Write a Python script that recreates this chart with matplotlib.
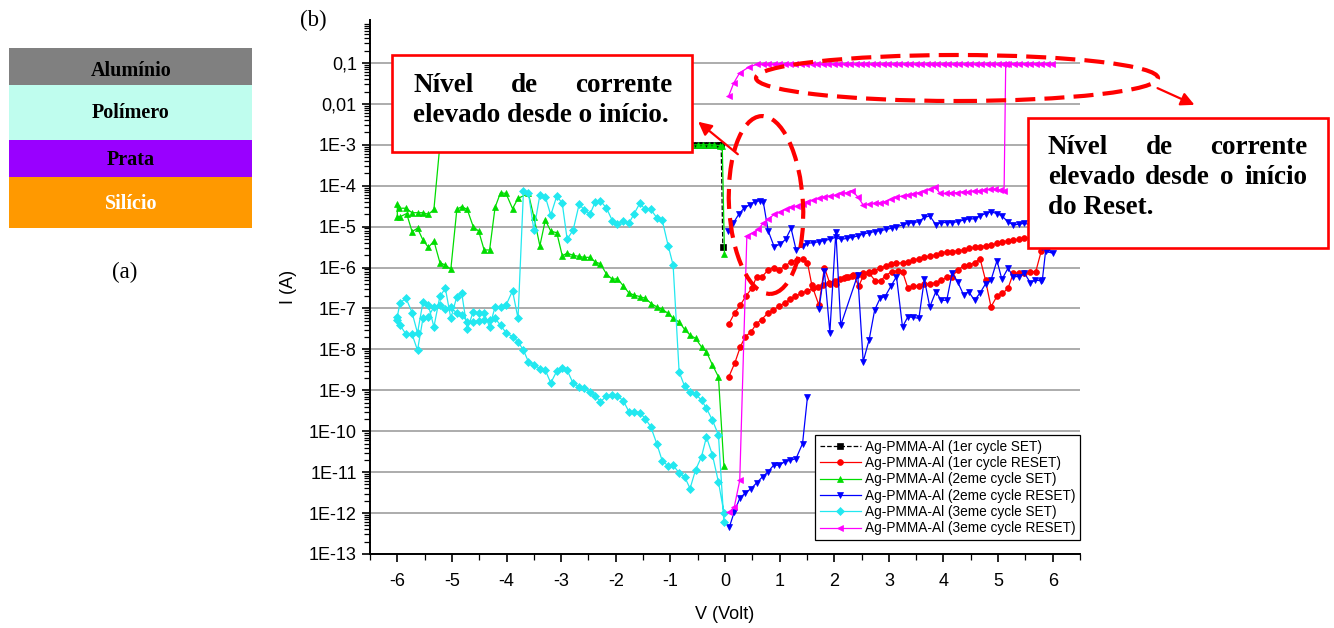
import numpy as np
import matplotlib
matplotlib.use("Agg")
import matplotlib.pyplot as plt
from matplotlib.patches import Rectangle, Ellipse, FancyArrowPatch
from matplotlib.ticker import FixedLocator, FixedFormatter, LogLocator, MultipleLocator, NullFormatter

# ---- layer stack (a) ----
layer_names = ['Alumínio', 'Polímero', 'Prata', 'Silício']
layer_colors = ['#808080', '#bffdee', '#9900ff', '#ff9900']
layer_text_colors = ['black', 'black', 'black', 'white']

# ---- I-V sweeps (b): (V, log10 I) ----
set1_pts = [(-0.9, -3.0), (-0.8, -3.0), (-0.7, -3.0), (-0.6, -3.0), (-0.5, -3.0), (-0.4, -3.0),
            (-0.3, -3.0), (-0.2, -3.0), (-0.1, -3.0), (-0.07, -3.0), (-0.04, -5.5)]

reset1_pts = [(0.07, -8.67), (0.18, -8.33), (0.28, -7.94), (0.37, -7.69), (0.48, -7.57), (0.57, -7.38),
              (0.67, -7.27), (0.78, -7.12), (0.88, -7.04), (0.99, -6.94), (1.10, -6.86), (1.19, -6.78),
              (1.29, -6.70), (1.40, -6.63), (1.50, -6.57), (1.61, -6.51), (1.70, -6.47), (1.80, -6.43),
              (1.90, -6.37), (2.01, -6.32), (2.11, -6.29), (2.21, -6.24), (2.32, -6.21), (2.41, -6.18),
              (2.52, -6.14), (2.63, -6.10), (2.73, -6.08), (2.84, -6.02), (2.94, -5.96), (3.04, -5.91),
              (3.14, -5.90), (3.25, -5.88), (3.35, -5.86), (3.45, -5.82), (3.55, -5.78), (3.65, -5.75),
              (3.75, -5.72), (3.86, -5.69), (3.96, -5.65), (4.06, -5.61), (4.16, -5.61), (4.26, -5.59),
              (4.37, -5.57), (4.47, -5.53), (4.57, -5.51), (4.67, -5.49), (4.77, -5.47), (4.87, -5.45),
              (4.98, -5.41), (5.08, -5.38), (5.18, -5.34), (5.28, -5.33), (5.38, -5.31), (5.48, -5.29),
              (5.60, -5.27), (5.70, -5.25), (5.80, -5.24), (5.90, -5.22), (6.00, -5.20),
              (5.90, -5.30), (5.79, -5.60), (5.69, -6.10), (5.59, -6.10), (5.48, -6.13), (5.38, -6.14),
              (5.28, -6.14), (5.18, -6.51), (5.08, -6.63), (4.98, -6.70), (4.87, -6.96), (4.77, -6.31),
              (4.67, -5.78), (4.57, -5.88), (4.47, -5.94), (4.37, -5.96), (4.26, -6.06), (4.16, -6.22),
              (4.06, -6.24), (3.96, -6.31), (3.86, -6.37), (3.75, -6.40), (3.65, -6.40), (3.55, -6.45),
              (3.45, -6.45), (3.35, -6.51), (3.25, -6.10), (3.16, -6.08), (3.05, -6.10), (2.94, -6.20),
              (2.85, -6.32), (2.75, -6.32), (2.64, -6.14), (2.53, -6.21), (2.45, -6.45), (2.35, -6.18),
              (2.26, -6.22), (2.17, -6.26), (2.03, -6.40), (1.92, -6.39), (1.82, -6.00), (1.72, -6.92),
              (1.59, -6.43), (1.51, -5.88), (1.42, -5.78), (1.31, -5.82), (1.21, -5.86), (1.10, -5.96),
              (0.99, -6.06), (0.89, -6.00), (0.79, -6.06), (0.68, -6.22), (0.58, -6.22), (0.49, -6.51),
              (0.38, -6.70), (0.28, -6.92), (0.18, -7.10), (0.07, -7.38)]

set2_pts = [(-0.02, -10.85), (-0.12, -8.67), (-0.23, -8.38), (-0.34, -8.06), (-0.43, -7.94), (-0.54, -7.73),
            (-0.64, -7.65), (-0.74, -7.51), (-0.84, -7.33), (-0.95, -7.24), (-1.04, -7.12), (-1.15, -7.02),
            (-1.25, -6.96), (-1.35, -6.88), (-1.46, -6.75), (-1.56, -6.71), (-1.67, -6.67), (-1.76, -6.62),
            (-1.86, -6.45), (-1.97, -6.27), (-2.06, -6.29), (-2.17, -6.16), (-2.28, -5.91), (-2.38, -5.86),
            (-2.47, -5.75), (-2.58, -5.75), (-2.67, -5.73), (-2.78, -5.70), (-2.89, -5.65), (-2.98, -5.71),
            (-3.08, -5.15), (-3.19, -5.11), (-3.29, -4.84), (-3.39, -5.47), (-3.50, -4.76), (-3.60, -4.19),
            (-3.79, -4.31), (-3.89, -4.56), (-4.01, -4.19), (-4.11, -4.17), (-4.21, -4.53), (-4.31, -5.57),
            (-4.41, -5.57), (-4.51, -5.11), (-4.61, -5.00), (-4.72, -4.58), (-4.82, -4.51), (-4.91, -4.58),
            (-5.02, -6.04), (-5.12, -5.94), (-5.22, -5.88), (-5.33, -5.35), (-5.43, -5.51), (-5.53, -5.33),
            (-5.63, -5.04), (-5.73, -5.12), (-5.83, -4.68), (-5.95, -4.76), (-6.00, -4.76),
            (-6.00, -4.44), (-5.96, -4.55), (-5.84, -4.55), (-5.73, -4.66), (-5.63, -4.66), (-5.53, -4.66),
            (-5.43, -4.70), (-5.33, -4.58), (-5.22, -3.0), (-0.6, -3.0), (-0.5, -3.0), (-0.4, -3.0),
            (-0.3, -3.0), (-0.2, -3.0), (-0.1, -3.02), (-0.05, -3.02), (-0.01, -5.67)]

reset2_pts = [(0.06, -5.10), (0.15, -4.92), (0.26, -4.68), (0.35, -4.55), (0.45, -4.47), (0.55, -4.39),
              (0.64, -4.37), (0.70, -4.39), (0.79, -5.10), (0.90, -5.49), (1.01, -5.43), (1.11, -5.31),
              (1.21, -5.04), (1.30, -5.56), (1.42, -5.48), (1.51, -5.41), (1.62, -5.39), (1.72, -5.37),
              (1.82, -5.34), (1.92, -5.31), (2.03, -5.26), (2.12, -5.31), (2.23, -5.29), (2.33, -5.26),
              (2.43, -5.23), (2.53, -5.18), (2.64, -5.15), (2.74, -5.12), (2.84, -5.10), (2.95, -5.07),
              (3.05, -5.04), (3.14, -5.00), (3.25, -4.96), (3.35, -4.92), (3.45, -4.90), (3.55, -4.88),
              (3.65, -4.77), (3.75, -4.74), (3.86, -4.95), (3.96, -4.90), (4.06, -4.90), (4.16, -4.90),
              (4.26, -4.88), (4.37, -4.84), (4.46, -4.81), (4.57, -4.81), (4.67, -4.74), (4.77, -4.68),
              (4.87, -4.64), (4.98, -4.68), (5.07, -4.74), (5.18, -4.88), (5.28, -4.96), (5.38, -4.94),
              (5.48, -4.92), (5.60, -4.95), (5.70, -5.20), (5.80, -5.50), (5.92, -5.55), (6.00, -5.65),
              (5.87, -5.60), (5.81, -6.31), (5.79, -6.32), (5.68, -6.31), (5.59, -6.37), (5.48, -6.13),
              (5.38, -6.22), (5.28, -6.22), (5.18, -6.02), (5.07, -6.29), (4.98, -5.83), (4.87, -6.31),
              (4.77, -6.40), (4.67, -6.62), (4.57, -6.80), (4.46, -6.59), (4.37, -6.67), (4.26, -6.35),
              (4.16, -6.13), (4.06, -6.80), (3.96, -6.80), (3.86, -6.59), (3.75, -6.96), (3.65, -6.29),
              (3.55, -7.24), (3.45, -7.22), (3.35, -7.20), (3.25, -7.45), (3.14, -6.22), (3.04, -6.45),
              (2.93, -6.71), (2.84, -6.75), (2.74, -7.04), (2.64, -7.76), (2.53, -8.30), (2.43, -6.18),
              (2.12, -7.41), (2.03, -5.12), (1.92, -7.59), (1.82, -6.08), (1.72, -7.02), (np.nan, np.nan),
              (1.51, -9.16), (1.42, -10.30), (1.30, -10.67), (1.19, -10.71), (1.09, -10.75), (0.99, -10.83),
              (0.89, -10.83), (0.79, -10.99), (0.69, -11.11), (0.58, -11.26), (0.48, -11.40), (0.37, -11.51),
              (0.27, -11.64), (0.17, -11.97), (0.08, -12.34)]

set3_pts = [(-0.02, -11.99), (-0.12, -11.24), (-0.23, -10.58), (-0.34, -10.14), (-0.43, -10.62), (-0.54, -10.95),
            (-0.64, -11.40), (-0.74, -11.11), (-0.84, -11.02), (-0.95, -10.83), (-1.04, -10.85), (-1.15, -10.72),
            (-1.25, -10.30), (-1.36, -9.89), (-1.46, -9.69), (-1.56, -9.55), (-1.67, -9.52), (-1.76, -9.52),
            (-1.86, -9.26), (-1.97, -9.13), (-2.06, -9.12), (-2.17, -9.14), (-2.28, -9.28), (-2.38, -9.13),
            (-2.47, -9.04), (-2.58, -8.95), (-2.67, -8.91), (-2.78, -8.83), (-2.89, -8.51), (-2.98, -8.45),
            (-3.08, -8.53), (-3.19, -8.82), (-3.29, -8.51), (-3.39, -8.47), (-3.50, -8.37), (-3.60, -8.30),
            (-3.69, -8.02), (-3.79, -7.81), (-3.89, -7.69), (-4.01, -7.59), (-4.11, -7.41), (-4.21, -7.24),
            (-4.31, -7.28), (-4.41, -7.28), (-4.51, -7.30), (-4.61, -7.32), (-4.72, -7.32), (-4.82, -7.16),
            (-4.91, -7.12), (-5.02, -6.96), (-5.12, -7.02), (-5.22, -6.92), (-5.33, -6.96), (-5.43, -7.20),
            (-5.53, -7.24), (-5.63, -8.02), (-5.73, -7.63), (-5.84, -7.63), (-5.95, -7.41), (-6.00, -7.27),
            (-6.00, -7.20), (-5.95, -6.86), (-5.84, -6.75), (-5.73, -7.10), (-5.63, -7.60), (-5.53, -6.84),
            (-5.43, -6.92), (-5.33, -7.45), (-5.22, -6.70), (-5.12, -6.51), (-5.02, -7.24), (-4.91, -6.71),
            (-4.82, -6.63), (-4.72, -7.51), (-4.61, -7.08), (-4.51, -7.12), (-4.41, -7.12), (-4.31, -7.45),
            (-4.21, -6.96), (-4.11, -6.97), (-4.01, -6.92), (-3.89, -6.57), (-3.79, -7.24),
            (-3.69, -4.13), (-3.60, -4.17), (-3.50, -5.08), (-3.39, -4.23), (-3.29, -4.27), (-3.19, -4.72),
            (-3.08, -4.25), (-2.98, -4.43), (-2.89, -5.31), (-2.78, -5.08), (-2.67, -4.45), (-2.58, -4.59),
            (-2.47, -4.69), (-2.38, -4.41), (-2.28, -4.37), (-2.17, -4.55), (-2.06, -4.86), (-1.97, -4.94),
            (-1.86, -4.86), (-1.76, -4.92), (-1.67, -4.70), (-1.56, -4.43), (-1.46, -4.58), (-1.36, -4.58),
            (-1.25, -4.78), (-1.15, -4.84), (-1.04, -5.47), (-0.95, -5.94), (-0.84, -8.55), (-0.74, -8.90),
            (-0.64, -9.04), (-0.54, -9.09), (-0.43, -9.24), (-0.34, -9.44), (-0.23, -9.73), (-0.12, -10.09),
            (-0.02, -12.21)]

reset3_pts = [(0.07, -1.80), (0.16, -1.49), (0.27, -1.24), (0.44, -1.10),
              (0.59, -1.03), (0.69, -1.03), (0.79, -1.03), (0.89, -1.03), (0.99, -1.03), (1.09, -1.03),
              (1.19, -1.03), (1.29, -1.03), (1.39, -1.03), (1.49, -1.03), (1.59, -1.03), (1.69, -1.03),
              (1.79, -1.03), (1.89, -1.03), (1.99, -1.03), (2.09, -1.03), (2.19, -1.03), (2.29, -1.03),
              (2.39, -1.03), (2.49, -1.03), (2.59, -1.03), (2.69, -1.03), (2.79, -1.03), (2.89, -1.03),
              (2.99, -1.03), (3.09, -1.03), (3.19, -1.03), (3.29, -1.03), (3.39, -1.03), (3.49, -1.03),
              (3.59, -1.03), (3.69, -1.03), (3.79, -1.03), (3.89, -1.03), (3.99, -1.03), (4.09, -1.03),
              (4.19, -1.03), (4.29, -1.03), (4.39, -1.03), (4.49, -1.03), (4.59, -1.03), (4.69, -1.03),
              (4.79, -1.03), (4.89, -1.03), (4.99, -1.03), (5.09, -1.03), (5.19, -1.03), (5.29, -1.03),
              (5.39, -1.03), (5.49, -1.03), (5.59, -1.03), (5.69, -1.03), (5.79, -1.03), (5.89, -1.03),
              (5.99, -1.03), (5.14, -1.03), (5.11, -4.12),
              (5.04, -4.11), (4.95, -4.09), (4.85, -4.09), (4.75, -4.11), (4.65, -4.13), (4.55, -4.13),
              (4.45, -4.15), (4.35, -4.15), (4.24, -4.17), (4.14, -4.17), (4.04, -4.19), (3.94, -4.19),
              (3.85, -4.04), (3.75, -4.09), (3.65, -4.13), (3.55, -4.17), (3.45, -4.20), (3.35, -4.23),
              (3.25, -4.25), (3.14, -4.28), (3.04, -4.33), (2.93, -4.39), (2.84, -4.42), (2.74, -4.43),
              (2.64, -4.45), (2.53, -4.47), (2.43, -4.27), (2.32, -4.12), (2.23, -4.17), (2.12, -4.19),
              (2.03, -4.23), (1.92, -4.25), (1.82, -4.27), (1.72, -4.31), (1.62, -4.35), (1.51, -4.39),
              (1.42, -4.45), (1.31, -4.50), (1.21, -4.53), (1.11, -4.58), (1.01, -4.64), (0.90, -4.70),
              (0.79, -4.82), (0.70, -4.92), (0.60, -5.07), (0.51, -5.15), (0.40, -5.23), (0.27, -11.20),
              (0.17, -11.85), (0.08, -11.97)]

series_labels = ['Ag-PMMA-Al (1er cycle SET)', 'Ag-PMMA-Al (1er cycle RESET)',
                 'Ag-PMMA-Al (2eme cycle SET)', 'Ag-PMMA-Al (2eme cycle RESET)',
                 'Ag-PMMA-Al (3eme cycle SET)', 'Ag-PMMA-Al (3eme cycle RESET)']

ytick_values = [1e-13, 1e-12, 1e-11, 1e-10, 1e-9, 1e-8, 1e-7, 1e-6, 1e-5, 1e-4, 1e-3, 1e-2, 1e-1]
ytick_labels = ['1E-13', '1E-12', '1E-11', '1E-10', '1E-9', '1E-8', '1E-7', '1E-6',
                '1E-5', '1E-4', '1E-3', '0,01', '0,1']
xtick_values = [-6, -5, -4, -3, -2, -1, 0, 1, 2, 3, 4, 5, 6]

W, H = 1334, 628
fig = plt.figure(figsize=(W / 100, H / 100), dpi=100)
SERIF = 'Liberation Serif'
SANS = 'Liberation Sans'


def fxy(x, y):
    # pixel position (from top-left) -> figure fraction
    return x / W, 1 - y / H


# ---- (a) layer stack ----
edges = [48, 85, 140, 177, 228]
label_y = [71, 113, 160, 204]
for i, name in enumerate(layer_names):
    y0, y1 = edges[i], edges[i + 1]
    fig.add_artist(Rectangle(fxy(9, y1), 243 / W, (y1 - y0) / H, transform=fig.transFigure,
                             facecolor=layer_colors[i], edgecolor='none'))
    fig.text(*fxy(131, label_y[i]), name, ha='center', va='center', fontsize=14.5,
             fontweight='bold', family=SERIF, color=layer_text_colors[i])
fig.text(*fxy(125, 272), '(a)', ha='center', va='center', fontsize=16.5, family=SERIF)
fig.text(*fxy(313, 20), '(b)', ha='center', va='center', fontsize=16.5, family=SERIF)

# ---- (b) I-V curves ----
ax = fig.add_axes([370 / W, 1 - 554 / H, 710 / W, 534 / H])
styles = [('black', 's', '--'), ('#ff0000', 'o', '-'), ('#00dd00', '^', '-'),
          ('#0000ff', 'v', '-'), ('#22e8f0', 'D', '-'), ('#ff00ff', '<', '-')]
all_pts = [set1_pts, reset1_pts, set2_pts, reset2_pts, set3_pts, reset3_pts]
for pts, (col, mk, ls), lab in zip(all_pts, styles, series_labels):
    arr = np.array(pts, dtype=float)
    ms = 3.8 if mk == 'D' else 4.2
    ax.plot(arr[:, 0], 10 ** arr[:, 1], color=col, marker=mk, ms=ms, lw=0.9, ls=ls,
            markeredgewidth=0.5, label=lab)

ax.set_yscale('log')
ax.set_ylim(1e-13, 1.12)
ax.set_xlim(-6.5, 6.5)
ax.yaxis.set_major_locator(FixedLocator(ytick_values))
ax.yaxis.set_major_formatter(FixedFormatter(ytick_labels))
ax.yaxis.set_minor_locator(LogLocator(base=10, subs=np.arange(2, 10), numticks=30))
ax.yaxis.set_minor_formatter(NullFormatter())
ax.set_xticks(xtick_values)
ax.set_xticklabels([str(v) for v in xtick_values])
ax.xaxis.set_minor_locator(MultipleLocator(0.5))
ax.grid(axis='y', which='major', color='#a6a6a6', lw=1.3)
ax.set_axisbelow(True)
for s in ['top', 'right']:
    ax.spines[s].set_visible(False)
for s in ['left', 'bottom']:
    ax.spines[s].set_linewidth(1.4)
ax.tick_params(which='major', direction='out', length=6, width=1.2, labelsize=13,
               labelfontfamily=SANS)
ax.tick_params(which='minor', direction='out', length=4, width=0.9)
ax.tick_params(axis='x', pad=8)
ax.set_xlabel('V (Volt)', fontsize=13, family=SANS)
ax.set_ylabel('I (A)', fontsize=13, family=SANS)
ax.xaxis.set_label_coords(0.5, -0.097)
ax.yaxis.set_label_coords(-0.103, 0.5)

leg = ax.legend(loc='lower right', bbox_to_anchor=(1.0, 0.026), fancybox=False, framealpha=1,
                edgecolor='black', prop={'family': SANS, 'size': 9.8}, handlelength=3.0,
                labelspacing=0.17, borderpad=0.35, borderaxespad=0, handletextpad=0.3, numpoints=1)
leg.get_frame().set_linewidth(0.9)

# ---- callouts ----
red = '#ff0000'
inch = fig.dpi_scale_trans


def pin(x, y):
    # pixel position (from top-left) -> inches for dpi_scale_trans
    return x / 100, (H - y) / 100


for (x0, y0, x1, y1) in [(392, 55, 692, 152), (1028, 118, 1328, 248)]:
    fig.add_artist(Rectangle(fxy(x0, y1), (x1 - x0) / W, (y1 - y0) / H, transform=fig.transFigure,
                             facecolor='white', edgecolor=red, lw=1.9, zorder=5))

fig.add_artist(Ellipse(pin(766, 205), 74 / 100, 178 / 100, angle=3, transform=inch, fill=False,
                       edgecolor=red, lw=3, ls=(0, (4.8, 2.2)), zorder=5))
fig.add_artist(Ellipse(pin(957, 78), 402 / 100, 46 / 100, angle=0, transform=inch, fill=False,
                       edgecolor=red, lw=3, ls=(0, (4.8, 2.2)), zorder=5))
fig.add_artist(FancyArrowPatch(pin(740, 156), pin(696, 120), transform=inch, arrowstyle='-|>',
                               mutation_scale=20, color=red, lw=1.6, zorder=6))
fig.add_artist(FancyArrowPatch(pin(1155, 87), pin(1197, 106), transform=inch, arrowstyle='-|>',
                               mutation_scale=20, color=red, lw=1.6, zorder=6))

renderer = fig.canvas.get_renderer()
note_style = dict(fontsize=19.5, fontweight='bold', family=SERIF, va='center', zorder=7)


def note_line(text, x0, x1, yc, justify):
    words = text.split()
    if not justify:
        fig.text(*fxy(x0, yc), text, ha='left', **note_style)
        return
    widths = []
    for w in words:
        t = fig.text(0, 0, w, **note_style)
        widths.append(t.get_window_extent(renderer).width)
        t.remove()
    gap = (x1 - x0 - sum(widths)) / (len(words) - 1)
    x = x0
    for w, wd in zip(words, widths):
        fig.text(*fxy(x, yc), w, ha='left', **note_style)
        x += wd + gap


note_line('Nível de corrente', 413, 672, 85, True)
note_line('elevado desde o início.', 413, 672, 116, False)
note_line('Nível de corrente', 1048, 1307, 147, True)
note_line('elevado desde o início', 1048, 1307, 177, True)
note_line('do Reset.', 1048, 1307, 208, False)

fig.savefig('out.png', dpi=100)
